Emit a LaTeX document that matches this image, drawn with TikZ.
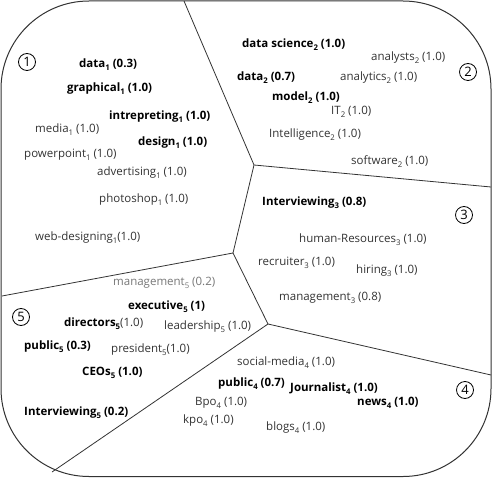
\documentclass[tikz,border=0pt]{standalone}
\usepackage{fontspec}
\setmainfont{Open Sans}
\definecolor{txt}{HTML}{333333}
\definecolor{lite}{HTML}{777777}
\definecolor{frame}{HTML}{333333}
\newcommand{\sbs}[1]{\raisebox{-0.5ex}{\fontsize{7.8}{8}\selectfont #1}}
\tikzset{
  lbl/.style={anchor=west, inner sep=0pt, font=\fontsize{11.5}{13}\selectfont, text=txt},
  blbl/.style={lbl, text=black, font=\fontsize{11.5}{13}\selectfont\bfseries},
  glbl/.style={lbl, text=lite},
  num/.style={draw=black, circle, line width=0.8pt, inner sep=0pt, minimum size=17pt, font=\fontsize{13}{14}\selectfont},
  border/.style={draw=frame, line width=1pt},
  divline/.style={draw=frame, line width=0.8pt},
}
\begin{document}
\begin{tikzpicture}[x=1pt, y=-1pt]
\useasboundingbox (0,0) rectangle (494,478);
\draw[border, rounded corners=88pt] (1,1) rectangle (491,476.5);
% junctions and boundary points
\coordinate (T) at (184,1);
\coordinate (J1) at (254,165);
\coordinate (R1) at (491,187);
\coordinate (J3) at (233,253);
\coordinate (L1) at (2,296);
\coordinate (J2) at (268,324);
\coordinate (R2) at (491,375);
\coordinate (B1) at (52,472);
\draw[divline] (T) -- (J1) -- (R1);
\draw[divline] (J1) -- (J3) -- (L1);
\draw[divline] (J3) -- (J2) -- (R2);
\draw[divline] (J2) -- (B1);
% circled numbers
\node[num] (n1) at (27,62) {1};
\node[num] (n2) at (468,72) {2};
\node[num] (n3) at (464,215) {3};
\node[num] (n4) at (465,390) {4};
\node[num] (n5) at (21,317) {5};
% region 1
\node[blbl] (a1) at (79,65) {data\sbs{1} (0.3)};
\node[blbl] (a2) at (67,89) {graphical\sbs{1} (1.0)};
\node[blbl] (a3) at (109,117) {intrepreting\sbs{1} (1.0)};
\node[lbl] (a4) at (35,130) {media\sbs{1} (1.0)};
\node[blbl] (a5) at (138,143) {design\sbs{1} (1.0)};
\node[lbl] (a6) at (24,155) {powerpoint\sbs{1} (1.0)};
\node[lbl] (a7) at (97,173) {advertising\sbs{1} (1.0)};
\node[lbl] (a8) at (99,200) {photoshop\sbs{1} (1.0)};
\node[lbl] (a9) at (35,238) {web-designing\sbs{1}(1.0)};
% region 2
\node[blbl] (b1) at (242,45) {data science\sbs{2} (1.0)};
\node[lbl] (b2) at (371,58) {analysts\sbs{2} (1.0)};
\node[blbl] (b3) at (237,78) {data\sbs{2} (0.7)};
\node[lbl] (b4) at (340,78) {analytics\sbs{2} (1.0)};
\node[blbl] (b5) at (272,98) {model\sbs{2} (1.0)};
\node[lbl] (b6) at (331,112) {IT\sbs{2} (1.0)};
\node[lbl] (b7) at (269,135) {Intelligence\sbs{2} (1.0)};
\node[lbl] (b8) at (351,162) {software\sbs{2} (1.0)};
% region 3
\node[blbl] (c1) at (262,203) {Interviewing\sbs{3} (0.8)};
\node[lbl] (c2) at (299,240) {human-Resources\sbs{3} (1.0)};
\node[lbl] (c3) at (258,263) {recruiter\sbs{3} (1.0)};
\node[lbl] (c4) at (356,271) {hiring\sbs{3} (1.0)};
\node[lbl] (c5) at (279,298) {management\sbs{3} (0.8)};
% region 4
\node[lbl] (d1) at (237,363) {social-media\sbs{4} (1.0)};
\node[blbl] (d2) at (218,384) {public\sbs{4} (0.7)};
\node[blbl] (d3) at (290,389) {Journalist\sbs{4} (1.0)};
\node[blbl] (d4) at (357,403) {news\sbs{4} (1.0)};
\node[lbl] (d5) at (195,403) {Bpo\sbs{4} (1.0)};
\node[lbl] (d6) at (183,421) {kpo\sbs{4} (1.0)};
\node[lbl] (d7) at (266,428) {blogs\sbs{4} (1.0)};
% region 5
\node[glbl] (e1) at (113,283) {management\sbs{5} (0.2)};
\node[blbl] (e2) at (128,307) {executive\sbs{5} (1)};
\node[lbl] (e3) at (64,324) {\textbf{\color{black}directors\sbs{5}}(1.0)};
\node[lbl] (e4) at (164,327) {leadership\sbs{5} (1.0)};
\node[blbl] (e5) at (24,347) {public\sbs{5} (0.3)};
\node[lbl] (e6) at (111,350) {president\sbs{5}(1.0)};
\node[blbl] (e7) at (82,373) {CEOs\sbs{5} (1.0)};
\node[blbl] (e8) at (24,413) {Interviewing\sbs{5} (0.2)};
\end{tikzpicture}
\end{document}
